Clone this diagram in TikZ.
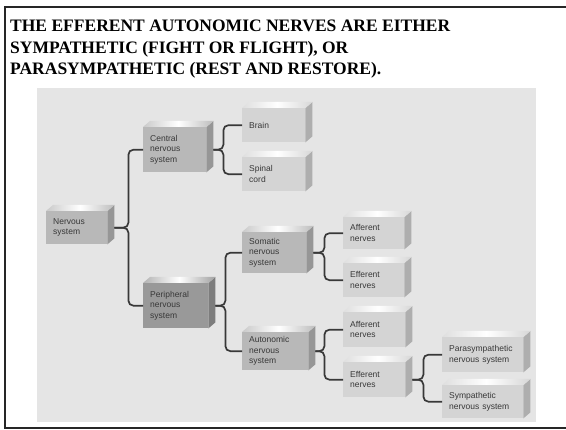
\documentclass[tikz,border=0pt]{standalone}
\usepackage{fontspec}
\setmainfont{Liberation Serif}
\newfontfamily\boxfont{Liberation Sans}
\usetikzlibrary{calc}
\definecolor{bg}{gray}{0.9}
\definecolor{midbox}{gray}{0.72}
\definecolor{darkbox}{gray}{0.6}
\definecolor{lightbox}{gray}{0.83}
\definecolor{linec}{gray}{0.22}
\definecolor{txt}{gray}{0.22}
\definecolor{framec}{gray}{0.15}
\newcommand\cubefaces[2]{%
  \fill[#2!82!black] (#1.north east) -- (#1.south east) -- ++(7,-6) -- ($(#1.north east)+(7,-6)$) -- cycle;
  \shade[left color=#2!75!white, right color=#2!92!white, middle color=white]
    (#1.north west) -- ($(#1.north west)+(7,-6)$) -- ($(#1.north east)+(7,-6)$) -- (#1.north east) -- cycle;}
\begin{document}
\begin{tikzpicture}[x=1pt,y=-1pt,
  cube/.style={fill=#1, inner xsep=7pt, inner ysep=0pt, align=left, anchor=north west,
    font=\boxfont\fontsize{8.5}{10.5}\selectfont, text=txt},
  conn/.style={draw=linec, line width=1.7pt, rounded corners=5pt},
  titletext/.style={anchor=base west, inner sep=0pt, font=\bfseries\fontsize{17.5}{21.5}\selectfont}]
\useasboundingbox (0,0) rectangle (566,430);
\fill[white] (0,0) rectangle (566,430);
% frame
\draw[framec, line width=1.6pt] (570,7) -- (5,7) -- (5,428) -- (570,428);
% title
\node[titletext] (t1) at (10,32) {THE EFFERENT AUTONOMIC NERVES ARE EITHER};
\node[titletext] (t2) at (10,53.5) {SYMPATHETIC (FIGHT OR FLIGHT), OR};
\node[titletext] (t3) at (10,75) {PARASYMPATHETIC (REST AND RESTORE).};
% background
\fill[bg] (37,88) rectangle (536,422);
% boxes
\node[cube=midbox, text width=47pt, minimum height=33pt] (ns) at (46,211) {Nervous\\system};
\node[cube=midbox, text width=49pt, minimum height=45pt] (cns) at (143,127) {Central\\nervous\\system};
\node[cube=lightbox, text width=49pt, minimum height=34pt] (brain) at (242,108) {Brain};
\node[cube=lightbox, text width=49pt, minimum height=34pt] (spinal) at (242,157) {Spinal\\cord};
\node[cube=darkbox, text width=51pt, minimum height=45pt] (pns) at (143,283) {Peripheral\\nervous\\system};
\node[cube=midbox, text width=50pt, minimum height=41pt] (sns) at (242,232) {Somatic\\nervous\\system};
\node[cube=lightbox, text width=47pt, minimum height=32pt] (saff) at (343,217) {Afferent\\nerves};
\node[cube=lightbox, text width=47pt, minimum height=34pt] (seff) at (343,263) {Efferent\\nerves};
\node[cube=midbox, text width=52pt, minimum height=38pt] (ans) at (242,332) {Autonomic\\nervous\\system};
\node[cube=lightbox, text width=48pt, minimum height=35pt] (aaff) at (343,312) {Afferent\\nerves};
\node[cube=lightbox, text width=48pt, minimum height=35pt] (aeff) at (343,362) {Efferent\\nerves};
\node[cube=lightbox, text width=67pt, minimum height=35pt] (para) at (442,337) {Parasympathetic\\nervous system};
\node[cube=lightbox, text width=67pt, minimum height=33pt] (symp) at (442,385) {Sympathetic\\nervous system};
\cubefaces{ns}{midbox}
\cubefaces{cns}{midbox}
\cubefaces{brain}{lightbox}
\cubefaces{spinal}{lightbox}
\cubefaces{pns}{darkbox}
\cubefaces{sns}{midbox}
\cubefaces{saff}{lightbox}
\cubefaces{seff}{lightbox}
\cubefaces{ans}{midbox}
\cubefaces{aaff}{lightbox}
\cubefaces{aeff}{lightbox}
\cubefaces{para}{lightbox}
\cubefaces{symp}{lightbox}
% connectors
\draw[conn] ([xshift=7pt]ns.east) -- ++(14,0) |- (cns.west);
\draw[conn] ([xshift=7pt]ns.east) -- ++(14,0) |- (pns.west);
\draw[conn] ([xshift=7pt]cns.east) -- ++(10,0) |- (brain.west);
\draw[conn] ([xshift=7pt]cns.east) -- ++(10,0) |- (spinal.west);
\draw[conn] ([xshift=7pt]pns.east) -- ++(10,0) |- (sns.west);
\draw[conn] ([xshift=7pt]pns.east) -- ++(10,0) |- (ans.west);
\draw[conn] ([xshift=7pt]sns.east) -- ++(11,0) |- (saff.west);
\draw[conn] ([xshift=7pt]sns.east) -- ++(11,0) |- (seff.west);
\draw[conn] ([xshift=7pt]ans.east) -- ++(9,0) |- (aaff.west);
\draw[conn] ([xshift=7pt]ans.east) -- ++(9,0) |- (aeff.west);
\draw[conn] ([xshift=7pt]aeff.east) -- ++(11,0) |- (para.west);
\draw[conn] ([xshift=7pt]aeff.east) -- ++(11,0) |- (symp.west);
\end{tikzpicture}
\end{document}
